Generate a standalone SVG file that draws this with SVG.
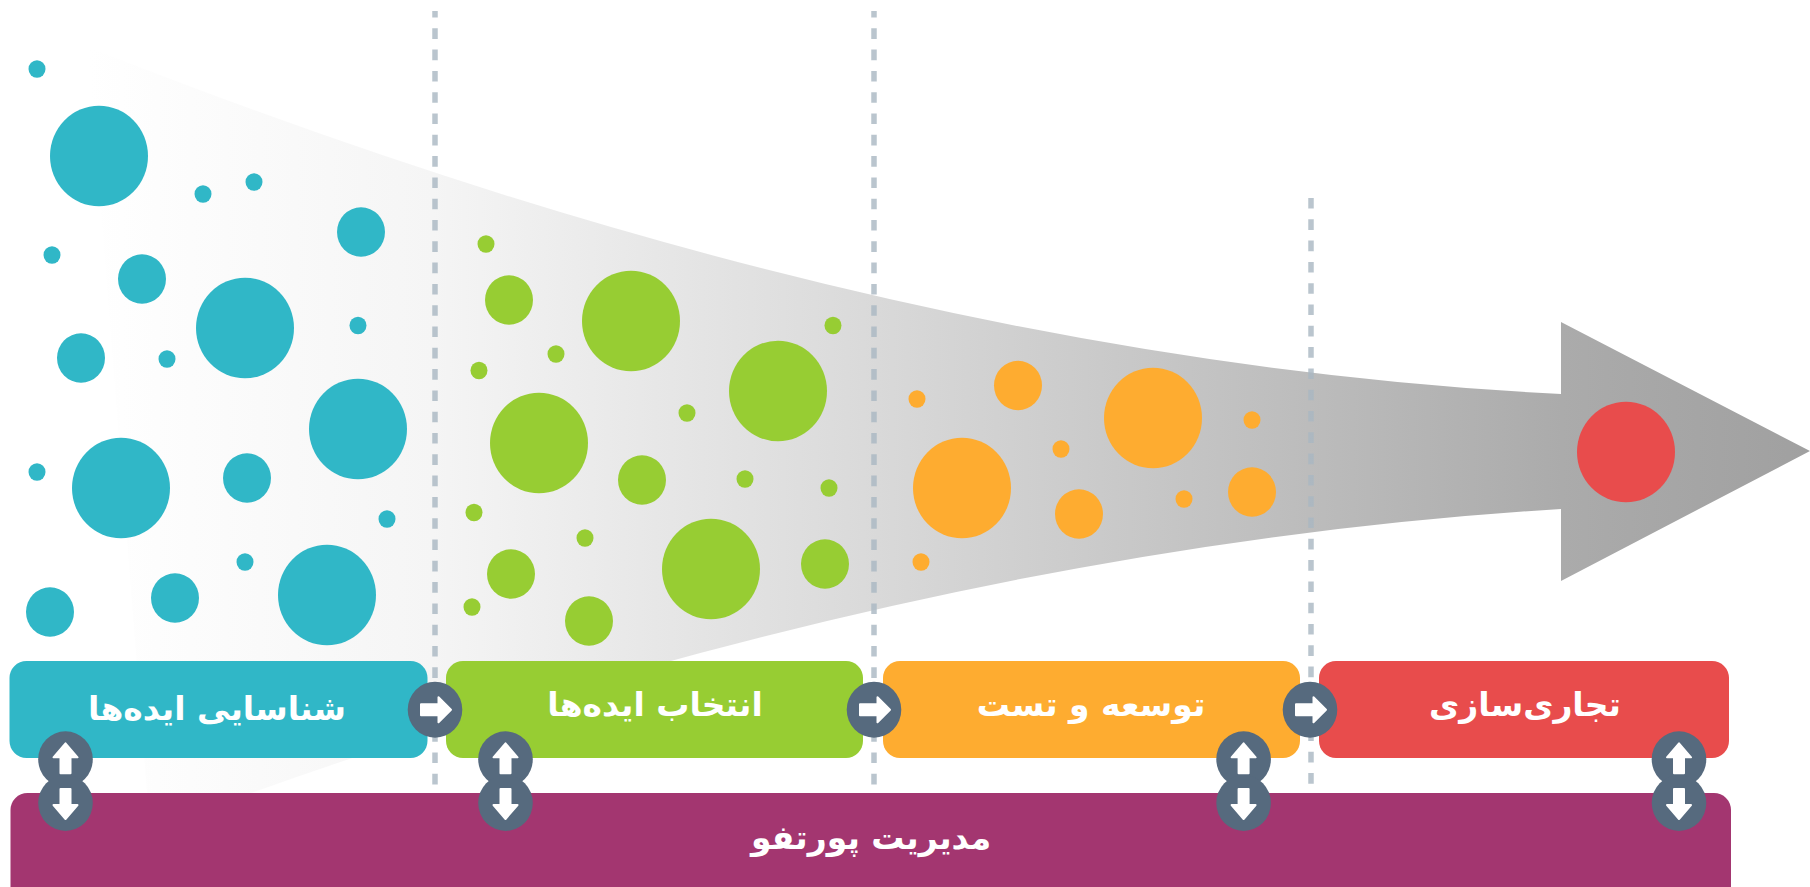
<svg xmlns="http://www.w3.org/2000/svg" width="1810" height="887" viewBox="0 0 1810 887">
<style>
.t{fill:#30b7c7}.g{fill:#97cd33}.o{fill:#feac30}.r{fill:#e84c4c}.p{fill:#a33670}
.c{fill:#566a7e}.a{fill:#fff;stroke:#fff;stroke-width:2;stroke-linejoin:round}
.d{stroke:#a9b6c2;stroke-opacity:.8;stroke-width:5.5;stroke-dasharray:10.6 10.7;fill:none}
.l{font-family:"DejaVu Sans",sans-serif;font-weight:700;font-size:33px;fill:#fff;text-anchor:middle;direction:rtl}
</style>
<defs>
<linearGradient id="fade" gradientUnits="userSpaceOnUse" x1="88" y1="0" x2="1810" y2="0">
<stop offset="0" stop-color="#fff"/><stop offset=".2" stop-color="#f5f5f5"/><stop offset=".45" stop-color="#dadada"/><stop offset=".7" stop-color="#bdbdbd"/><stop offset=".856" stop-color="#ababab"/><stop offset="1" stop-color="#a0a0a0"/>
</linearGradient>
<path id="ar" class="a" d="M-14,-5.5H3.5V-12.5L16,0L3.5,12.5V5.5H-14Z"/>
<path id="au" class="a" d="M-5,14V-2H-12L0,-16L12,-2H5V14Z"/>
<path id="ad" class="a" d="M-5,-14V2H-12L0,16L12,2H5V-14Z"/>
</defs>
<path id="funnel" fill="url(#fade)" d="M88,47Q878,360 1561,394V322L1810,451L1561,581V509Q899,549 150,830Z"/>
<g id="teal-dots" class="t">
<ellipse cx="37" cy="69" rx="8.5" ry="8.7"/><ellipse cx="203" cy="194" rx="8.5" ry="8.7"/><ellipse cx="254" cy="182" rx="8.5" ry="8.7"/><ellipse cx="52" cy="255" rx="8.5" ry="8.7"/><ellipse cx="167" cy="359" rx="8.5" ry="8.7"/><ellipse cx="358" cy="325.5" rx="8.5" ry="8.7"/><ellipse cx="37" cy="472" rx="8.5" ry="8.7"/><ellipse cx="387" cy="519" rx="8.5" ry="8.7"/><ellipse cx="245" cy="562" rx="8.5" ry="8.7"/>
<ellipse cx="361" cy="232" rx="24" ry="24.7"/><ellipse cx="142" cy="279" rx="24" ry="24.7"/><ellipse cx="81" cy="358" rx="24" ry="24.7"/><ellipse cx="247" cy="478" rx="24" ry="24.7"/><ellipse cx="50" cy="612" rx="24" ry="24.7"/><ellipse cx="175" cy="598" rx="24" ry="24.7"/>
<ellipse cx="99" cy="156" rx="49" ry="50.3"/><ellipse cx="245" cy="328" rx="49" ry="50.3"/><ellipse cx="358" cy="429" rx="49" ry="50.3"/><ellipse cx="121" cy="488" rx="49" ry="50.3"/><ellipse cx="327" cy="595" rx="49" ry="50.3"/>
</g>
<g id="green-dots" class="g">
<ellipse cx="486" cy="244" rx="8.5" ry="8.7"/><ellipse cx="556" cy="354" rx="8.5" ry="8.7"/><ellipse cx="479" cy="370.5" rx="8.5" ry="8.7"/><ellipse cx="833" cy="325.5" rx="8.5" ry="8.7"/><ellipse cx="687" cy="413" rx="8.5" ry="8.7"/><ellipse cx="745" cy="479" rx="8.5" ry="8.7"/><ellipse cx="829" cy="488" rx="8.5" ry="8.7"/><ellipse cx="474" cy="512.5" rx="8.5" ry="8.7"/><ellipse cx="585" cy="538" rx="8.5" ry="8.7"/><ellipse cx="472" cy="607" rx="8.5" ry="8.7"/>
<ellipse cx="509" cy="300" rx="24" ry="24.7"/><ellipse cx="642" cy="480" rx="24" ry="24.7"/><ellipse cx="511" cy="574" rx="24" ry="24.7"/><ellipse cx="589" cy="621" rx="24" ry="24.7"/><ellipse cx="825" cy="564" rx="24" ry="24.7"/>
<ellipse cx="631" cy="321" rx="49" ry="50.3"/><ellipse cx="778" cy="391" rx="49" ry="50.3"/><ellipse cx="539" cy="443" rx="49" ry="50.3"/><ellipse cx="711" cy="569" rx="49" ry="50.3"/>
</g>
<g id="orange-dots" class="o">
<ellipse cx="917" cy="399" rx="8.5" ry="8.7"/><ellipse cx="1061" cy="449" rx="8.5" ry="8.7"/><ellipse cx="1252" cy="420" rx="8.5" ry="8.7"/><ellipse cx="1184" cy="499" rx="8.5" ry="8.7"/><ellipse cx="921" cy="562" rx="8.5" ry="8.7"/>
<ellipse cx="1018" cy="385.5" rx="24" ry="24.7"/><ellipse cx="1079" cy="514" rx="24" ry="24.7"/><ellipse cx="1252" cy="492" rx="24" ry="24.7"/>
<ellipse cx="1153" cy="418" rx="49" ry="50.3"/><ellipse cx="962" cy="488" rx="49" ry="50.3"/>
</g>
<g id="red-dot" class="r"><ellipse cx="1626" cy="452" rx="49" ry="50.3"/></g>
<g id="dividers">
<line class="d" x1="435" y1="11" x2="435" y2="786" stroke-dashoffset="4"/>
<line class="d" x1="874" y1="11" x2="874" y2="786" stroke-dashoffset="4"/>
<line class="d" x1="1311" y1="198" x2="1311" y2="786"/>
</g>
<g id="stage-ideation"><rect class="t" x="9.5" y="661" width="418" height="97" rx="17"/><text class="l" x="217" y="720">شناسایی ایده‌ها</text></g>
<g id="stage-selection"><rect class="g" x="446" y="661" width="417" height="97" rx="17"/><text class="l" x="655" y="716">انتخاب ایده‌ها</text></g>
<g id="stage-development"><rect class="o" x="883" y="661" width="417" height="97" rx="17"/><text class="l" x="1091" y="716">توسعه و تست</text></g>
<g id="stage-commercial"><rect class="r" x="1319" y="661" width="410" height="97" rx="17"/><text class="l" x="1525" y="716">تجاری‌سازی</text></g>
<g id="portfolio"><rect class="p" x="10.5" y="793" width="1720.500" height="110" rx="17"/><text class="l" x="871" y="849">مدیریت پورتفو</text></g>
<g id="connectors">
<g transform="translate(435,709.700)"><ellipse class="c" rx="27.300" ry="28"/><use href="#ar"/></g>
<g transform="translate(874,709.700)"><ellipse class="c" rx="27.300" ry="28"/><use href="#ar"/></g>
<g transform="translate(1310,709.700)"><ellipse class="c" rx="27.300" ry="28"/><use href="#ar"/></g>
<g transform="translate(65.500,759.300)"><ellipse class="c" rx="27.300" ry="28"/><use href="#au"/></g>
<g transform="translate(65.500,803)"><ellipse class="c" rx="27.300" ry="28"/><use href="#ad"/></g>
<g transform="translate(505.500,759.300)"><ellipse class="c" rx="27.300" ry="28"/><use href="#au"/></g>
<g transform="translate(505.500,803)"><ellipse class="c" rx="27.300" ry="28"/><use href="#ad"/></g>
<g transform="translate(1243.600,759.300)"><ellipse class="c" rx="27.300" ry="28"/><use href="#au"/></g>
<g transform="translate(1243.600,803)"><ellipse class="c" rx="27.300" ry="28"/><use href="#ad"/></g>
<g transform="translate(1679,759.300)"><ellipse class="c" rx="27.300" ry="28"/><use href="#au"/></g>
<g transform="translate(1679,803)"><ellipse class="c" rx="27.300" ry="28"/><use href="#ad"/></g>
</g>
</svg>
